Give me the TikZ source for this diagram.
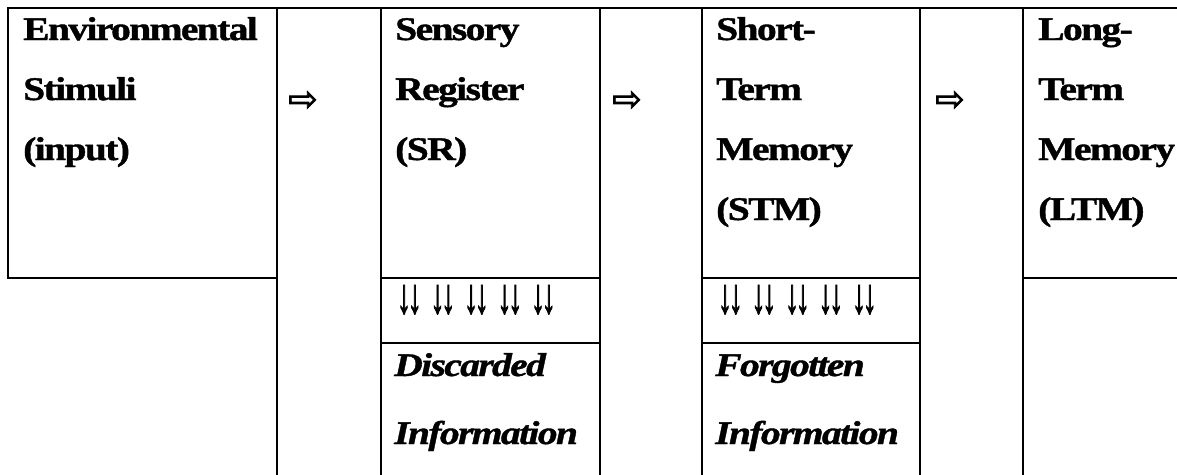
\documentclass[tikz,border=0pt]{standalone}
\usepackage{fontspec}
\setmainfont{Liberation Serif}
\newfontfamily\tabfont[FakeStretch=1.2,LetterSpace=-5,FakeBold=1.2]{Liberation Serif}
\newfontfamily\arrowfont[FakeStretch=0.55,FakeBold=1.6]{Liberation Serif}
\newfontfamily\symfont[FakeBold=2.5]{DejaVu Sans}
\begin{document}
\begin{tikzpicture}[x=1pt,y=-1pt,
  rule/.style={line width=1.3pt,line cap=rect},
  head/.style={anchor=base west,inner sep=0pt,font=\tabfont\fontsize{33}{33}\selectfont\bfseries},
  lost/.style={anchor=base west,inner sep=0pt,font=\tabfont\fontsize{33}{33}\selectfont\bfseries\itshape},
  drops/.style={anchor=base west,inner sep=0pt,font=\arrowfont\fontsize{50}{50}\selectfont},
  flow/.style={anchor=center,inner sep=0pt,font=\symfont\fontsize{35}{35}\selectfont}]
\useasboundingbox (0,0) rectangle (1177,474);
% table rules
\draw[rule] (8,8) -- (1180,8);
\draw[rule] (8,8) -- (8,278) -- (277,278);
\draw[rule] (277,8) -- (277,480);
\draw[rule] (381,8) -- (381,480);
\draw[rule] (600,8) -- (600,480);
\draw[rule] (702,8) -- (702,480);
\draw[rule] (920,8) -- (920,480);
\draw[rule] (1023,8) -- (1023,480);
\draw[rule] (381,278) -- (600,278);
\draw[rule] (381,343) -- (600,343);
\draw[rule] (702,278) -- (920,278);
\draw[rule] (702,343) -- (920,343);
\draw[rule] (1023,278) -- (1180,278);
% column 1
\node[head] (env1) at (23,40) {Environmental};
\node[head] (env2) at (23,100) {Stimuli};
\node[head] (env3) at (23,160) {(input)};
% SR
\node[head] (sr1) at (395,40) {Sensory};
\node[head] (sr2) at (395,100) {Register};
\node[head] (sr3) at (395,160) {(SR)};
% STM
\node[head] (stm1) at (716,40) {Short-};
\node[head] (stm2) at (716,100) {Term};
\node[head] (stm3) at (716,160) {Memory};
\node[head] (stm4) at (716,220) {(STM)};
% LTM
\node[head] (ltm1) at (1038,40) {Long-};
\node[head] (ltm2) at (1038,100) {Term};
\node[head] (ltm3) at (1038,160) {Memory};
\node[head] (ltm4) at (1038,220) {(LTM)};
% flow arrows
\node[flow] (f1) at (303,101) {⇨};
\node[flow] (f2) at (627,101) {⇨};
\node[flow] (f3) at (950,101) {⇨};
% drops
\node[drops] (d1) at (397,313) {↓\kern-3pt↓\kern9pt↓\kern-3pt↓\kern9pt↓\kern-3pt↓\kern9pt↓\kern-3pt↓\kern9pt↓\kern-3pt↓};
\node[drops] (d2) at (718,313) {↓\kern-3pt↓\kern9pt↓\kern-3pt↓\kern9pt↓\kern-3pt↓\kern9pt↓\kern-3pt↓\kern9pt↓\kern-3pt↓};
% lost information
\node[lost] (dis1) at (394,376) {Discarded};
\node[lost] (dis2) at (394,444) {Information};
\node[lost] (for1) at (715,376) {Forgotten};
\node[lost] (for2) at (715,444) {Information};
\end{tikzpicture}
\end{document}
